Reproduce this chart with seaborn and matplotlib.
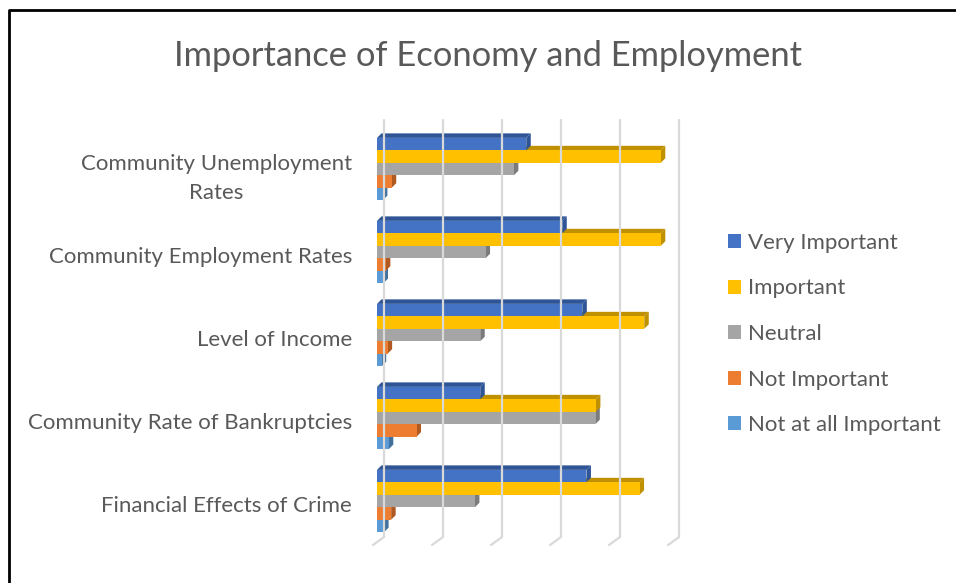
import matplotlib
matplotlib.use("Agg")
import matplotlib.pyplot as plt
from matplotlib.patches import Polygon, Patch
from matplotlib.lines import Line2D
from matplotlib.transforms import IdentityTransform, ScaledTranslation
import pandas as pd
import seaborn as sns

# Survey responses (% of respondents) per economic factor
categories = [
    "Community Unemployment\nRates",
    "Community Employment Rates",
    "Level of Income",
    "Community Rate of Bankruptcies",
    "Financial Effects of Crime",
]
levels = ["Very Important", "Important", "Neutral", "Not Important", "Not at all Important"]
very_important = [25.3, 31.4, 34.8, 17.5, 35.5]
important = [48.1, 48.1, 45.3, 37.1, 44.5]
neutral = [23.2, 18.4, 17.5, 37.0, 16.6]
not_important = [2.5, 1.5, 1.8, 6.7, 2.4]
not_at_all_important = [1.0, 1.1, 0.8, 2.0, 1.2]

front_colors = ["#4472C4", "#FFC000", "#A5A5A5", "#ED7D31", "#5B9BD5"]
shade_colors = ["#2F5597", "#BF9000", "#7B7B7B", "#B05A22", "#41719C"]

series = [very_important, important, neutral, not_important, not_at_all_important]
df = pd.DataFrame(
    [(c, lvl, v) for lvl, vals in zip(levels, series) for c, v in zip(categories, vals)],
    columns=["factor", "rating", "pct"],
)

W, H = 956, 583
FONT = "Lato"
TXT = "#595959"

sns.set_theme(style="white")
plt.rcParams["font.family"] = [FONT, "DejaVu Sans"]

fig = plt.figure(figsize=(W / 100, H / 100), dpi=100)
fig.patch.set_facecolor("white")

# plot area in pixel coordinates (top-left origin)
px_left, px_right = 377, 672
py_top, py_bot = 127.5, 542.5
ax = fig.add_axes([px_left / W, (H - py_bot) / H, (px_right - px_left) / W, (py_bot - py_top) / H])

sns.barplot(
    data=df, y="factor", x="pct", hue="rating", order=categories, hue_order=levels,
    palette=front_colors, width=0.75, dodge=True, saturation=1, orient="h",
    ax=ax, legend=False, linewidth=0,
)
ax.set_xlim(0, 50)
ax.set_ylim(4.5, -0.5)
ax.set_xlabel("")
ax.set_ylabel("")
ax.set_xticks([])
for s in ax.spines.values():
    s.set_visible(False)
ax.patch.set_alpha(0)
ax.tick_params(axis="y", length=0, pad=18, labelsize=16, labelcolor=TXT)
shift_down = ScaledTranslation(0, -0.03, fig.dpi_scale_trans)
for lab in ax.get_yticklabels():
    lab.set_horizontalalignment("right")
    lab.set_multialignment("center")
    lab.set_linespacing(1.55)
    lab.set_transform(lab.get_transform() + shift_down)

ident = IdentityTransform()
D = 4.5  # depth of the 3D extrusion in pixels

# back-wall gridlines with the slanted floor segment
for gx in range(0, 51, 10):
    x0, _ = ax.transData.transform((gx, 0))
    xs = [x0 + 7, x0 + 7, x0 - 4]
    ys = [H - 120, H - 537, H - 545]
    fig.add_artist(Line2D(xs, ys, transform=ident, color="#D9D9D9", lw=1.6, zorder=0.5,
                          solid_joinstyle="miter"))

# extrude each bar: top face and end face, stacked so upper bars sit in front
for i, cont in enumerate(ax.containers):
    z = 10 - i
    for p in cont:
        p.set_zorder(z)
        (x0, y0), (x1, y1) = ax.transData.transform(p.get_bbox().get_points())
        xl, xr = min(x0, x1), max(x0, x1)
        yb, yt = min(y0, y1), max(y0, y1)
        top = Polygon([[xl, yt], [xr, yt], [xr + D, yt + D], [xl + D, yt + D]], closed=True,
                      transform=ident, facecolor=shade_colors[i], edgecolor="none", zorder=z - 0.1)
        side = Polygon([[xr, yt], [xr, yb], [xr + D, yb + D], [xr + D, yt + D]], closed=True,
                       transform=ident, facecolor=shade_colors[i], edgecolor="none", zorder=z - 0.1)
        ax.add_artist(top)
        ax.add_artist(side)

fig.text(488 / W, 1 - 56 / H, "Importance of Economy and Employment", ha="center", va="center",
         fontsize=24.8, color=TXT)

handles = [Patch(facecolor=c, edgecolor="none", label=l) for c, l in zip(front_colors, levels)]
fig.legend(handles=handles, loc="center left", bbox_to_anchor=(728 / W, 1 - 334 / H),
           frameon=False, fontsize=16, labelcolor=TXT, handlelength=0.6, handleheight=0.6,
           handletextpad=0.3, labelspacing=1.15, borderaxespad=0, borderpad=0)

# chart border (left and top edges)
fig.add_artist(Line2D([9, 9, W], [0, H - 10, H - 10], transform=ident, color="black", lw=2))

fig.savefig("out.png", dpi=100)
